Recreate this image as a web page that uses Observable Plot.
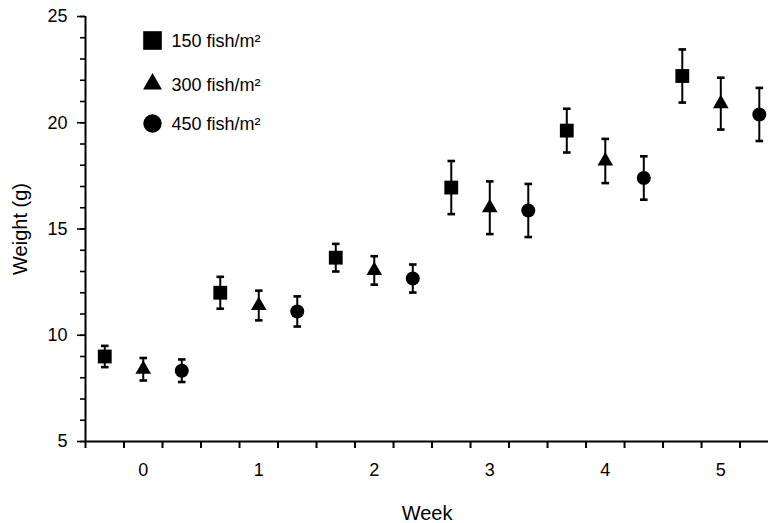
<!DOCTYPE html>
<html>
<head>
<meta charset="utf-8">
<script src="https://cdn.jsdelivr.net/npm/d3@7"></script>
<script src="https://cdn.jsdelivr.net/npm/@observablehq/plot@0.6"></script>
<style>
  html, body { margin: 0; padding: 0; background: #fff; }
  #chart svg { display: block; }
</style>
</head>
<body>
<div id="chart"></div>
<script>
// ---- data ----
const weeks = [0, 1, 2, 3, 4, 5];
const mean150 = [9.0, 12.0, 13.65, 16.95, 19.63, 22.2];
const se150   = [0.5, 0.75, 0.65, 1.25, 1.03, 1.25];
const mean300 = [8.4, 11.4, 13.05, 16.0, 18.2, 20.9];
const se300   = [0.53, 0.7, 0.67, 1.24, 1.04, 1.22];
const mean450 = [8.33, 11.12, 12.67, 15.87, 17.4, 20.39];
const se450   = [0.53, 0.71, 0.66, 1.25, 1.02, 1.25];
const seriesLabels = ["150 fish/m²", "300 fish/m²", "450 fish/m²"];
const yMajorTicks = [5, 10, 15, 20, 25];
const yMinorTicks = d3.range(5, 26, 1);
const xLabelTicks = [0, 1, 2, 3, 4, 5];
const xMinorTicks = d3.range(0, 18).map(k => -0.5 + k / 3);

// ---- build table ----
const series = [
  {label: seriesLabels[0], means: mean150, se: se150, offset: -1/3, symbol: "square",   r: 7.8, lr: 10.5},
  {label: seriesLabels[1], means: mean300, se: se300, offset: 0,    symbol: "triangle", r: 5.8, lr: 7.0},
  {label: seriesLabels[2], means: mean450, se: se450, offset: 1/3,  symbol: "circle",   r: 7.0, lr: 9.2}
];
const rows = series.flatMap(s => weeks.map((w, i) => ({
  series: s.label, x: w + s.offset, y: s.means[i], lo: s.means[i] - s.se[i], hi: s.means[i] + s.se[i]
})));

const capSymbol = { draw(ctx) { ctx.moveTo(-3.8, 0); ctx.lineTo(3.8, 0); } };
const font = "'Liberation Sans', Arial, Helvetica, sans-serif";

const marks = [
  // axis lines
  Plot.ruleY([5], {strokeWidth: 2}),
  Plot.ruleX([-0.5], {y1: 5, y2: 25, strokeWidth: 2}),
  // y axis
  Plot.axisY({ticks: yMinorTicks, tickSize: 5, tickFormat: () => "", label: null, strokeWidth: 1.6}),
  Plot.axisY({ticks: yMajorTicks, tickSize: 8, tickPadding: 10, fontSize: 18, strokeWidth: 1.6,
    tickFormat: d3.format("d"), label: null}),
  Plot.axisY({ticks: [], fontSize: 20, label: "Weight (g)", labelAnchor: "center", labelArrow: "none", labelOffset: 73}),
  // x axis
  Plot.axisX({ticks: xMinorTicks, tickSize: 7, tickFormat: () => "", label: null, strokeWidth: 2}),
  Plot.axisX({ticks: xLabelTicks, tickSize: 0, tickPadding: 22, fontSize: 18,
    tickFormat: d3.format("d"), label: null}),
  Plot.axisX({ticks: [], fontSize: 20, label: "Week", labelAnchor: "center", labelArrow: "none", labelOffset: 78})
];

for (const s of series) {
  const data = rows.filter(d => d.series === s.label);
  marks.push(Plot.ruleX(data, {x: "x", y1: "lo", y2: "hi", strokeWidth: 2}));
  marks.push(Plot.dot(data, {x: "x", y: "lo", symbol: capSymbol, r: 4, stroke: "black", strokeWidth: 2.6, fill: "none"}));
  marks.push(Plot.dot(data, {x: "x", y: "hi", symbol: capSymbol, r: 4, stroke: "black", strokeWidth: 2.6, fill: "none"}));
  marks.push(Plot.dot(data, {x: "x", y: "y", symbol: s.symbol, r: s.r, fill: "black", stroke: "none"}));
}

// legend inside the frame (top-left)
const legendDy = [24, 67.5, 107];
series.forEach((s, i) => {
  marks.push(Plot.dot([s], {frameAnchor: "top-left", dx: 67, dy: legendDy[i], symbol: s.symbol, r: s.lr, fill: "black", stroke: "none"}));
  marks.push(Plot.text([s], {frameAnchor: "top-left", dx: 86, dy: legendDy[i] + 1, text: "label",
    textAnchor: "start", lineAnchor: "middle", fontSize: 18, fill: "black"}));
});

const chart = Plot.plot({
  width: 768,
  height: 523,
  marginLeft: 85,
  marginRight: 0,
  marginTop: 16,
  marginBottom: 82,
  style: {fontFamily: font, fontSize: "18px", color: "black", background: "white"},
  x: {domain: [-0.5, 5.413]},
  y: {domain: [5, 25]},
  marks
});
document.getElementById("chart").appendChild(chart);
</script>
</body>
</html>
